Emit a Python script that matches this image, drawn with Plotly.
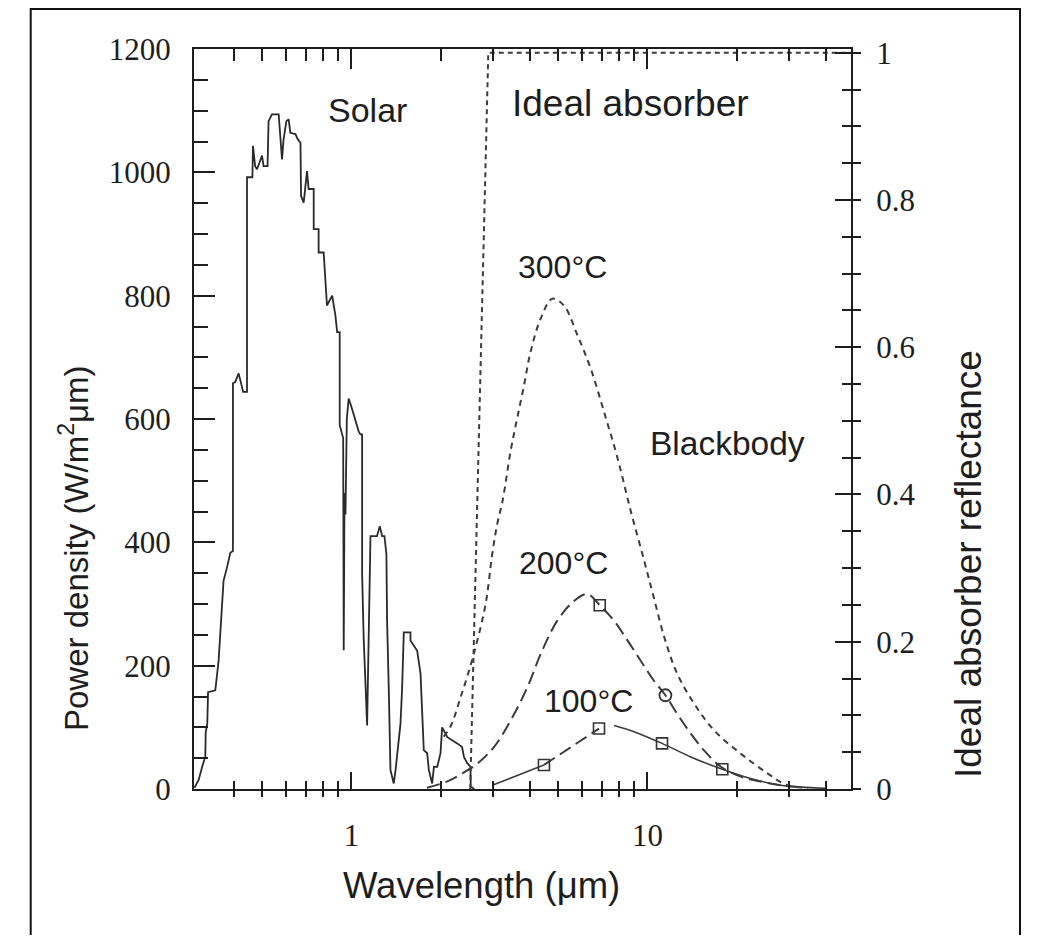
import plotly.graph_objects as go
import math

# ---------------- data ----------------
solar_wl = [0.295, 0.305, 0.315, 0.321, 0.322, 0.326, 0.328, 0.347, 0.356, 0.360, 0.365, 0.370,
            0.380, 0.390, 0.398, 0.398, 0.405, 0.416, 0.431, 0.444, 0.444, 0.463, 0.465, 0.473,
            0.480, 0.499, 0.505, 0.521, 0.525, 0.539, 0.568, 0.573, 0.583, 0.590, 0.603, 0.614,
            0.622, 0.647, 0.660, 0.673, 0.676, 0.690, 0.708, 0.717, 0.746, 0.746, 0.775, 0.775,
            0.806, 0.827, 0.861, 0.883, 0.895, 0.913, 0.913, 0.938, 0.942, 0.948, 0.955, 0.965,
            0.979, 1.000, 1.058, 1.073, 1.087, 1.087, 1.100, 1.130, 1.145, 1.160, 1.220, 1.247,
            1.270, 1.293, 1.313, 1.320, 1.337, 1.355, 1.390, 1.410, 1.465, 1.484, 1.503, 1.583,
            1.583, 1.668, 1.712, 1.756, 1.803, 1.826, 1.874, 1.900, 1.950, 2.000, 2.025, 2.110,
            2.277, 2.365, 2.400, 2.460, 2.525, 2.530, 2.600]
solar_pd = [2, 15, 40, 52, 92, 106, 157, 160, 208, 252, 286, 338,
            359, 383, 386, 658, 660, 674, 644, 644, 992, 992, 1043, 1010,
            1005, 1027, 1010, 1010, 1083, 1094, 1094, 1064, 1021, 1053, 1083, 1086,
            1064, 1062, 1053, 1048, 962, 951, 1002, 973, 973, 908, 908, 870,
            870, 784, 800, 768, 741, 741, 590, 569, 225, 480, 445, 600,
            633, 620, 580, 575, 575, 349, 246, 103, 273, 410, 410, 426,
            410, 410, 381, 273, 165, 31, 9, 31, 106, 165, 254, 254,
            241, 224, 187, 63, 58, 31, 9, 36, 36, 58, 100, 84,
            74, 68, 52, 42, 36, 4, 0]

absorber_wl = [2.52, 2.90, 48.7]
absorber_refl = [0, 1, 1]

bb300_wl = [2.05, 2.16, 2.34, 2.59, 2.84, 2.99, 3.11, 3.24, 3.45, 3.63, 3.83, 4.03, 4.36, 4.77,
            5.22, 5.80, 6.43, 7.13, 7.92, 8.78, 9.75, 10.5, 11.4, 12.6, 14.4, 16.8, 20.7,
            25.5, 29.7, 34.8]
bb300_pd = [85, 101, 149, 219, 300, 381, 430, 467, 548, 601, 655, 709, 763, 795,
            784, 736, 682, 612, 537, 451, 370, 311, 246, 187, 138, 95, 57,
            25, 6, 2]

bb200_wl = [1.80, 2.10, 2.40, 2.66, 3.03, 3.45, 3.93, 4.36, 4.96, 5.65, 6.27, 6.90, 7.71, 8.56,
            9.49, 10.5, 11.5, 12.6, 14.0, 15.5, 17.7, 20.7, 24.2, 28.2, 33.0]
bb200_pd = [2, 12, 27, 41, 68, 111, 165, 219, 273, 305, 316, 298, 273, 241,
            208, 176, 152, 122, 90, 63, 36, 20, 12, 6, 3]

bb100a_wl = [2.99, 4.47]
bb100a_pd = [6, 39]
bb100b_wl = [4.47, 6.86]
bb100b_pd = [39, 98]
bb100c_wl = [7.71, 9.0, 11.2, 14.0, 17.9, 22.3, 28.2, 33.0, 40.0]
bb100c_pd = [103, 93, 74, 52, 32, 17, 6, 3, 1]

sq_wl = [4.47, 6.86, 11.2, 17.9, 6.90]
sq_pd = [39, 98, 74, 32, 298]
circ_wl = [11.5]
circ_pd = [152]

x_major = [1, 10]
x_major_text = ["1", "10"]
x_minor = [0.4, 0.5, 0.6, 0.7, 0.8, 0.9, 2, 3, 4, 5, 6, 7, 8, 9, 20, 30, 40]
yl_major = [0, 200, 400, 600, 800, 1000, 1200]
yl_minor = [v for v in range(0, 1201, 50)]
yr_major = [0, 0.2, 0.4, 0.6, 0.8, 1.0]
yr_major_text = ["0", "0.2", "0.4", "0.6", "0.8", "1"]
yr_minor = [round(0.05 * i, 2) for i in range(0, 21)]

# ---------------- layout geometry ----------------
OFF = 8                      # page body margin of the browser
W, H = 1036, 927
L, T = 186, 41               # plot area: screen x 194..851, y 49..789
R = W - (851 - OFF)
B = H - (789 - OFF)
PW, PH = W - L - R, H - T - B
xr = [math.log10(0.294), math.log10(48.7)]

def px(xs):
    return (xs - OFF - L) / PW

def py(ys):
    return (H - B - (ys - OFF)) / PH

ink = "#1e1e1e"
dash_col = "#3c3c3c"
serif = "Liberation Serif"
sans = "Liberation Sans"

fig = go.Figure()

fig.add_trace(go.Scatter(x=solar_wl, y=solar_pd, mode="lines",
                         line=dict(color="#2a2a2a", width=1.8), hoverinfo="skip"))
fig.add_trace(go.Scatter(x=absorber_wl, y=absorber_refl, mode="lines", yaxis="y2",
                         line=dict(color=dash_col, width=2, dash="5px,4px"), hoverinfo="skip"))
fig.add_trace(go.Scatter(x=bb300_wl, y=bb300_pd, mode="lines", line_shape="spline",
                         line=dict(color=dash_col, width=2, dash="6px,5px"), hoverinfo="skip"))
fig.add_trace(go.Scatter(x=bb200_wl, y=bb200_pd, mode="lines", line_shape="spline",
                         line=dict(color=dash_col, width=2, dash="13px,6px"), hoverinfo="skip"))
fig.add_trace(go.Scatter(x=bb100a_wl, y=bb100a_pd, mode="lines",
                         line=dict(color=dash_col, width=1.6), hoverinfo="skip"))
fig.add_trace(go.Scatter(x=bb100b_wl, y=bb100b_pd, mode="lines",
                         line=dict(color=dash_col, width=2, dash="13px,6px"), hoverinfo="skip"))
fig.add_trace(go.Scatter(x=bb100c_wl, y=bb100c_pd, mode="lines", line_shape="spline",
                         line=dict(color=dash_col, width=1.6), hoverinfo="skip"))
fig.add_trace(go.Scatter(x=sq_wl, y=sq_pd, mode="markers",
                         marker=dict(symbol="square-open", size=11, color="#333",
                                     line=dict(width=1.6, color="#333")), hoverinfo="skip"))
fig.add_trace(go.Scatter(x=circ_wl, y=circ_pd, mode="markers",
                         marker=dict(symbol="circle-open", size=12, color="#333",
                                     line=dict(width=1.8, color="#333")), hoverinfo="skip"))
# empty traces to register the extra tick axes
fig.add_trace(go.Scatter(x=[], y=[], xaxis="x2", yaxis="y", showlegend=False))
fig.add_trace(go.Scatter(x=[], y=[], xaxis="x3", yaxis="y", showlegend=False))
fig.add_trace(go.Scatter(x=[], y=[], xaxis="x", yaxis="y3", showlegend=False))

common_x = dict(type="log", range=xr, showgrid=False, zeroline=False)

fig.update_layout(
    width=W, height=H, showlegend=False,
    margin=dict(l=L, r=R, t=T, b=B, pad=0),
    paper_bgcolor="white", plot_bgcolor="white",
    xaxis=dict(**common_x, side="bottom", anchor="y", showline=True, linewidth=2, linecolor=ink,
               ticks="inside", ticklen=17, tickwidth=2, tickcolor=ink,
               tickmode="array", tickvals=x_major, ticktext=x_major_text,
               tickfont=dict(family=serif, size=31, color=ink), ticklabelstandoff=18,
               minor=dict(tickmode="array", tickvals=x_minor, ticks="inside", ticklen=8,
                          tickwidth=2, tickcolor=ink)),
    xaxis2=dict(**common_x, side="top", overlaying="x", anchor="y", showline=True, linewidth=2,
                linecolor=ink, ticks="inside", ticklen=20, tickwidth=2, tickcolor=ink,
                tickmode="array", tickvals=x_major, showticklabels=False,
                minor=dict(tickmode="array", tickvals=x_minor, ticks="inside", ticklen=12,
                           tickwidth=2, tickcolor=ink)),
    xaxis3=dict(**common_x, side="bottom", overlaying="x", anchor="y", showline=False,
                ticks="outside", ticklen=7, tickwidth=2, tickcolor=ink,
                tickmode="array", tickvals=x_minor, showticklabels=False),
    yaxis=dict(range=[0, 1200], showgrid=False, zeroline=False, showline=True, linewidth=2,
               linecolor=ink, ticks="inside", ticklen=21, tickwidth=2, tickcolor=ink,
               tickmode="array", tickvals=yl_major,
               tickfont=dict(family=serif, size=31, color=ink), ticklabelstandoff=15,
               minor=dict(tickmode="array", tickvals=yl_minor, ticks="inside", ticklen=14,
                          tickwidth=2, tickcolor=ink)),
    yaxis2=dict(range=[0, 1.005], overlaying="y", side="right", anchor="x", showgrid=False,
                zeroline=False, showline=True, linewidth=2, linecolor=ink,
                ticks="inside", ticklen=16, tickwidth=2, tickcolor=ink,
                tickmode="array", tickvals=yr_major, ticktext=yr_major_text,
                tickfont=dict(family=serif, size=31, color=ink), ticklabelstandoff=17,
                minor=dict(tickmode="array", tickvals=yr_minor, ticks="inside", ticklen=9,
                           tickwidth=2, tickcolor=ink)),
    yaxis3=dict(range=[0, 1.005], overlaying="y", side="right", anchor="x", showgrid=False,
                zeroline=False, showline=False, ticks="outside", ticklen=9, tickwidth=2,
                tickcolor=ink, tickmode="array", tickvals=yr_minor, showticklabels=False),
)

# outer frame
fig.add_shape(type="rect", xref="paper", yref="paper",
              x0=px(30.7), x1=px(1020), y0=py(960), y1=py(9),
              line=dict(color="#111", width=2), fillcolor="rgba(0,0,0,0)", layer="above")

def note(text, xc, yc, size, angle=0):
    fig.add_annotation(text=text, xref="paper", yref="paper", x=px(xc), y=py(yc),
                       xanchor="center", yanchor="middle", showarrow=False, textangle=angle,
                       font=dict(family=sans, size=size, color=ink))

note("Solar", 367.5, 110, 34)
note("Ideal absorber", 630, 103, 37)
note("300°C", 562, 267, 32)
note("Blackbody", 727.5, 443, 33.5)
note("200°C", 563, 563, 32)
note("100°C", 588, 701, 32)
note("Wavelength (μm)", 481, 886, 36.5)
note("Power density (W/m<sup>2</sup>μm)", 74, 548, 33, -90)
note("Ideal absorber reflectance", 968, 564, 37, -90)

fig.write_html("out.html")
